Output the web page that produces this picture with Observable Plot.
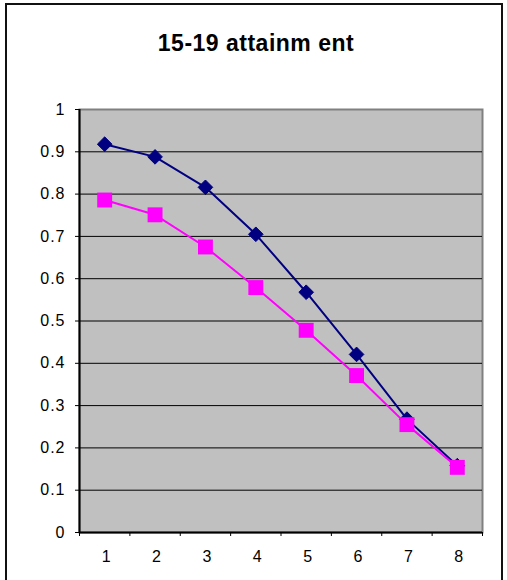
<!DOCTYPE html>
<html>
<head>
<meta charset="utf-8">
<script src="https://cdn.jsdelivr.net/npm/d3@7"></script>
<script src="https://cdn.jsdelivr.net/npm/@observablehq/plot@0.6"></script>
<style>
  html, body { margin: 0; padding: 0; background: #fff; }
  #wrap { position: relative; width: 507px; height: 580px; overflow: hidden; font-family: "Liberation Sans", Arial, sans-serif; }
  #border { position: absolute; left: 5px; top: 3px; width: 498px; height: 600px; border: 2px solid #111; box-sizing: border-box; border-bottom: none; }
  #chart { position: absolute; left: 0; top: 0; width: 507px; height: 580px; }
  #title { position: absolute; left: 0; width: 512px; top: 29px; text-align: center; font-size: 23px; font-weight: bold; letter-spacing: 0.5px; line-height: 28px; color: #000; }
</style>
</head>
<body>
<div id="wrap"><div id="border"></div><div id="chart"></div><div id="title"></div></div>
<script>
const title = "15-19 attainm ent";
const categories = [1, 2, 3, 4, 5, 6, 7, 8];
const seriesA = [0.918, 0.888, 0.816, 0.705, 0.568, 0.421, 0.268, 0.158];
const seriesB = [0.786, 0.751, 0.675, 0.579, 0.478, 0.371, 0.255, 0.154];
const yTicks = [0, 0.1, 0.2, 0.3, 0.4, 0.5, 0.6, 0.7, 0.8, 0.9, 1];
const yTickLabels = ["0", "0.1", "0.2", "0.3", "0.4", "0.5", "0.6", "0.7", "0.8", "0.9", "1"];
const bandEdges = [0.5, 1.5, 2.5, 3.5, 4.5, 5.5, 6.5, 7.5, 8.5];

const dataA = categories.map((c, i) => ({x: c, y: seriesA[i]}));
const dataB = categories.map((c, i) => ({x: c, y: seriesB[i]}));
const gridVals = yTicks.filter(v => v > 0 && v < 1);
const yLabelData = yTicks.map((v, i) => ({y: v, label: yTickLabels[i]}));

document.getElementById("title").textContent = title;

const chart = Plot.plot({
  width: 507,
  height: 580,
  marginLeft: 79,
  marginRight: 25,
  marginTop: 109,
  marginBottom: 48,
  style: {fontFamily: "Liberation Sans, Arial, sans-serif", fontSize: "16px", letterSpacing: "1px", color: "#000", background: "transparent"},
  x: {domain: [0.5, 8.5], axis: null},
  y: {domain: [0, 1], axis: null},
  marks: [
    Plot.frame({fill: "#c0c0c0", stroke: "#808080", strokeWidth: 2}),
    Plot.ruleY(gridVals, {stroke: "#000", strokeWidth: 1}),
    Plot.axisY(yTicks, {label: null, tickSize: 4, tickFormat: () => "", stroke: "#000"}),
    Plot.axisX(bandEdges, {label: null, tickSize: 4, tickFormat: () => "", stroke: "#000"}),
    Plot.text(yLabelData, {x: 0.5, y: "y", text: "label", dx: -14, textAnchor: "end", lineAnchor: "middle", fontSize: 16, fill: "#000"}),
    Plot.text(categories, {x: d => d, y: 0, text: d => String(d), dx: 2, dy: 24, lineAnchor: "middle", fontSize: 16, fill: "#000"}),
    Plot.ruleX([0.5], {stroke: "#000", strokeWidth: 2}),
    Plot.ruleY([0], {stroke: "#000", strokeWidth: 2}),
    Plot.line(dataA, {x: "x", y: "y", stroke: "#000080", strokeWidth: 2}),
    Plot.dot(dataA, {x: "x", y: "y", symbol: "diamond2", r: 6.6, fill: "#000080", stroke: "#000080", strokeWidth: 1}),
    Plot.line(dataB, {x: "x", y: "y", stroke: "#ff00ff", strokeWidth: 2}),
    Plot.dot(dataB, {x: "x", y: "y", symbol: "square2", r: 9.5, fill: "#ff00ff", strokeWidth: 0})
  ]
});
document.getElementById("chart").appendChild(chart);
</script>
</body>
</html>
